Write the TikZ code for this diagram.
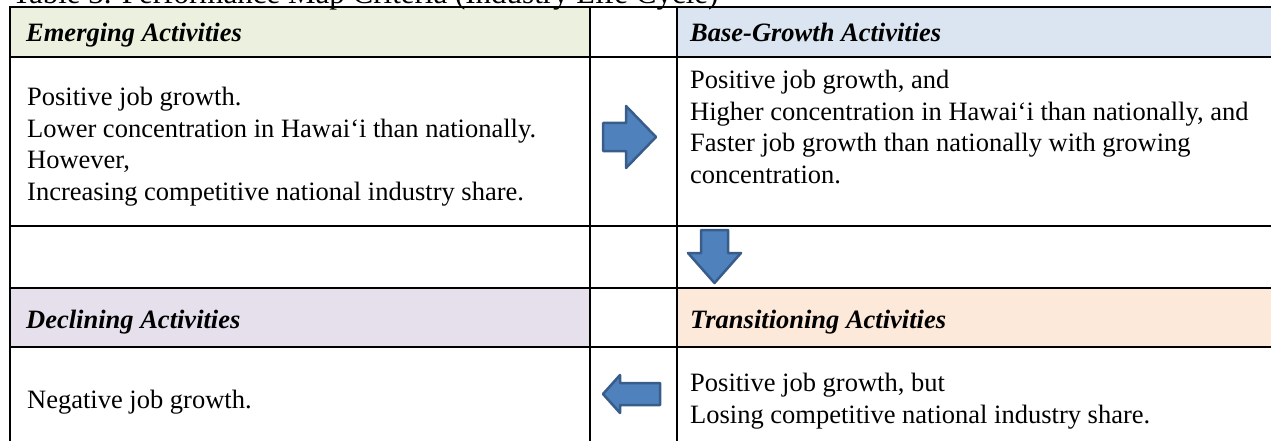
\documentclass[tikz,border=0pt]{standalone}
\usepackage{fontspec}
\setmainfont{Liberation Serif}
\definecolor{hgreen}{HTML}{EBF1DE}
\definecolor{hblue}{HTML}{DBE5F1}
\definecolor{hpurple}{HTML}{E5E0EC}
\definecolor{hpeach}{HTML}{FDE9D9}
\definecolor{arrowfill}{HTML}{4F81BD}
\definecolor{arrowline}{HTML}{385D8A}
\newcommand\cellfont{\fontsize{26.5}{31.5}\selectfont}
\newcommand\titlefont{\fontsize{31}{36}\selectfont}
\newcommand\fl{\rule{0pt}{22pt}}
\begin{document}
\begin{tikzpicture}[x=1pt,y=-1pt,
  cell/.style={anchor=north west,inner sep=0pt,align=left,font=\cellfont},
  line/.style={anchor=base west,inner sep=0pt,font=\cellfont},
  head/.style={anchor=base west,inner sep=0pt,font=\cellfont\bfseries\itshape},
  tbl/.style={line width=2pt,line cap=rect},
  blk/.style={fill=arrowfill,draw=arrowline,line width=2.5pt,line join=round}]
\useasboundingbox (0,0) rectangle (1271,441);
\clip (0,0) rectangle (1271,441);
% header fills
\fill[hgreen] (10,7) rectangle (590,57);
\fill[hblue] (677,7) rectangle (1272,57);
\fill[hpurple] (10,288) rectangle (590,347);
\fill[hpeach] (677,288) rectangle (1272,347);
% title (cut off at top, as in the reference)
\node[anchor=base west,inner sep=0pt,font=\titlefont] (title) at (12,4) {Table 3. Performance Map Criteria (Industry Life Cycle)};
% grid
\draw[tbl] (10,7) -- (1275,7);
\draw[tbl] (10,57) -- (1275,57);
\draw[tbl] (10,226) -- (1275,226);
\draw[tbl] (10,288) -- (1275,288);
\draw[tbl] (10,347) -- (1275,347);
\draw[tbl] (10,7) -- (10,445);
\draw[tbl] (590,7) -- (590,445);
\draw[tbl] (677,7) -- (677,445);
% headers
\node[head] (hem) at (26,42) {Emerging Activities};
\node[head] (hbg) at (690,42) {Base-Growth Activities};
\node[head] (hde) at (26,328) {Declining Activities};
\node[head] (htr) at (690,328) {Transitioning Activities};
% body texts
\node[cell] (tem) at (27,83.5) {\fl Positive job growth.\\Lower concentration in Hawai‘i than nationally.\\However,\\Increasing competitive national industry share.};
\node[cell] (tbg) at (690,66.5) {\fl Positive job growth, and\\Higher concentration in Hawai‘i than nationally, and\\Faster job growth than nationally with growing\\concentration.};
\node[line] (tde) at (27,408.5) {Negative job growth.};
\node[cell] (ttr) at (690,369.5) {\fl Positive job growth, but\\Losing competitive national industry share.};
% block arrows
\draw[blk] (603,123) -- (626,123) -- (626,106) -- (656,137) -- (626,168) -- (626,151) -- (603,151) -- cycle;
\draw[blk] (701,230) -- (728,230) -- (728,253) -- (741,253) -- (714.5,283) -- (688,253) -- (701,253) -- cycle;
\draw[blk] (660,383) -- (620,383) -- (620,375) -- (603,394) -- (620,413) -- (620,405) -- (660,405) -- cycle;
\end{tikzpicture}
\end{document}
